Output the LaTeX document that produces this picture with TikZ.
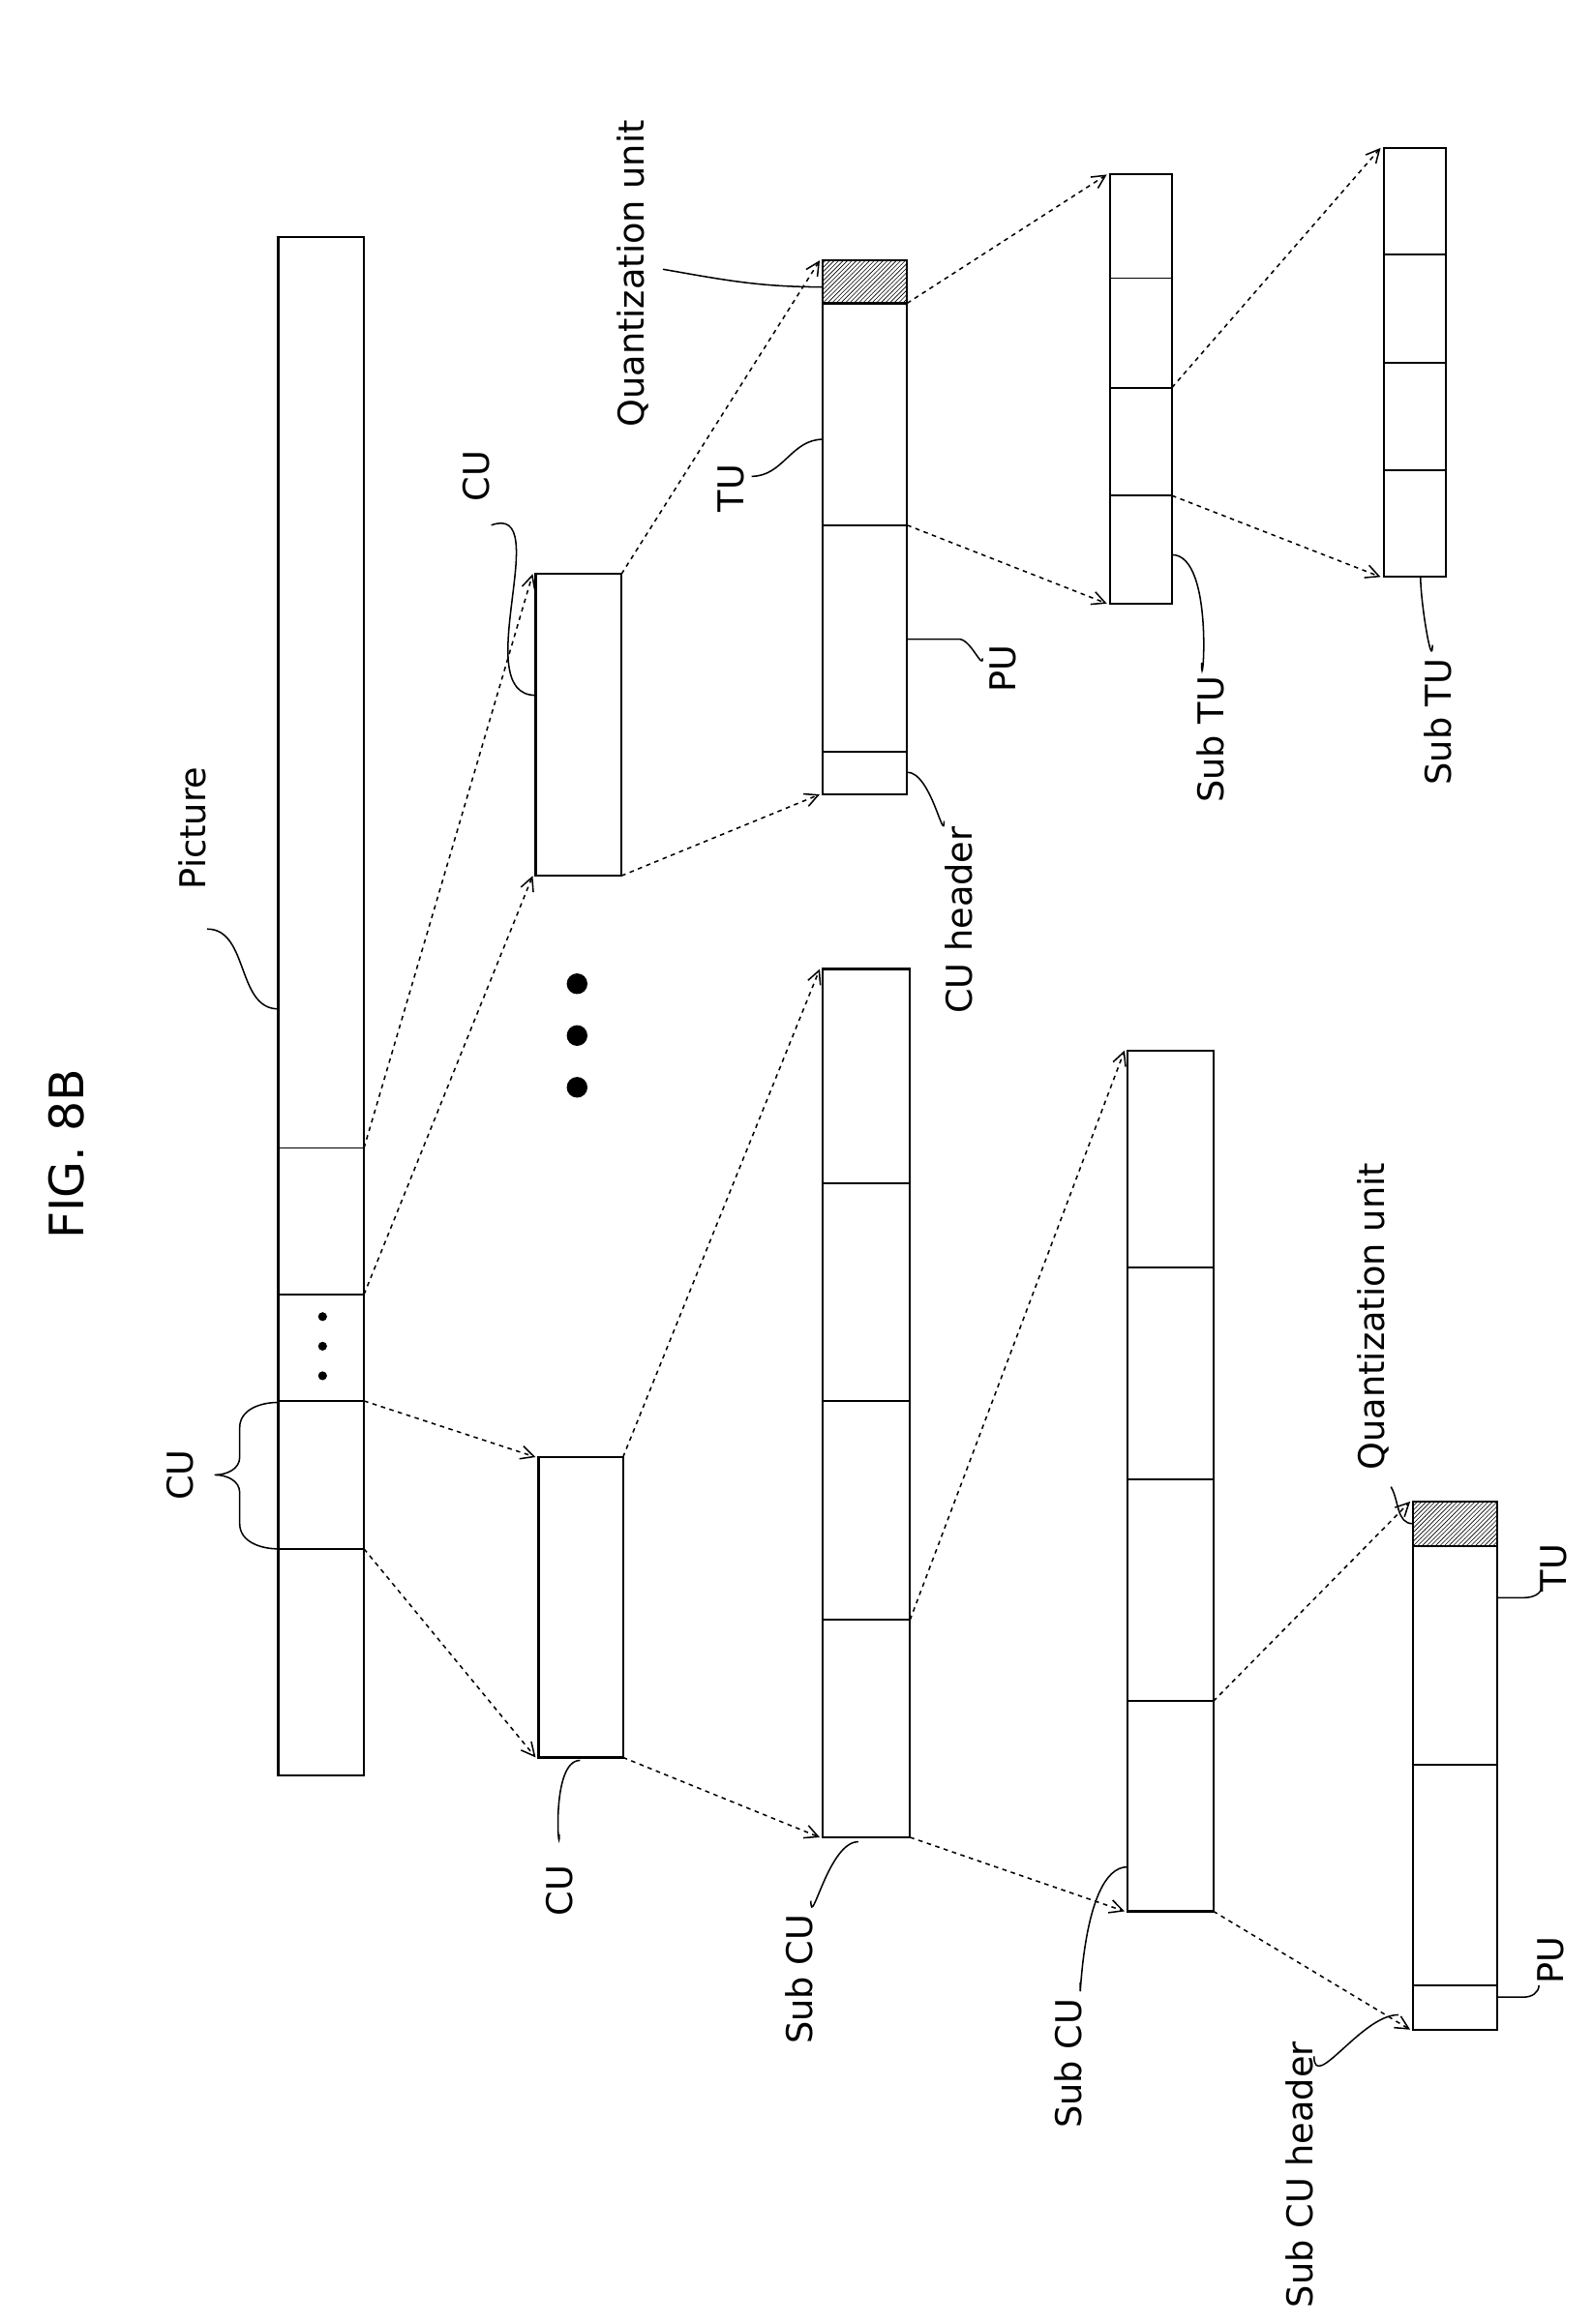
\documentclass[tikz,border=0pt]{standalone}
\usepackage{fontspec}
\setmainfont{DejaVu Sans}
\usetikzlibrary{arrows.meta,patterns}
\begin{document}
\begin{tikzpicture}[x=1pt,y=-1pt,
  box/.style={draw,line width=1.4pt,fill=white},
  dv/.style={line width=1.2pt},
  arr/.style={dashed,line width=1pt,-{Straight Barb[length=9pt,width=9pt]}},
  lead/.style={line width=1pt},
  lbl/.style={rotate=90,font=\fontsize{24}{28}\selectfont,inner sep=1pt},
  hatch/.style={pattern=north east lines}]
\useasboundingbox (0,0) rectangle (1076,1571);
\node[rotate=90,font=\fontsize{32}{36}\selectfont] (title) at (45,780) {FIG. 8B};
% Picture
\draw[box] (188,160) rectangle (246,1200);
\foreach \y in {776,875,947,1047} \draw[dv] (188,\y) -- (246,\y);
\foreach \y in {890,910,930} \fill (218,\y) circle (3);
\node[lbl] (lpic) at (130,560) {Picture};
\draw[lead] (140,628) to[out=0,in=180] (188,682);
\node[lbl] (lcu) at (122,997) {CU};
\draw[lead] (188,948) to[out=180,in=90] (162,965) -- (162,985) to[out=270,in=0] (145,997) to[out=0,in=90] (162,1009) -- (162,1030) to[out=270,in=180] (188,1047);
% CU upper
\draw[box] (362,388) rectangle (420,592);
\coordinate (p776) at (246,776); \coordinate (p875) at (246,875);
\draw[arr] (p776) -- (360,388);
\draw[arr] (p875) -- (360,592);
\node[lbl] (lcu1) at (322,322) {CU};
\draw[lead] (332,355) to[out=20,in=180] (362,470);
\foreach \y in {665,700,735} \fill (390,\y) circle (7);
% CU lower
\draw[box] (364,985) rectangle (421,1188);
\draw[arr] (246,947) -- (362,985);
\draw[arr] (246,1047) -- (362,1188);
\node[lbl] (lcu2) at (378,1278) {CU};
\draw[lead] (378,1240) to[out=-90,in=180] (392,1190);
% TU column upper
\draw[box] (556,176) rectangle (613,537);
\fill[white] (556,176) rectangle (613,205);
\path[hatch] (556,176) rectangle (613,205);
\draw[line width=1.4pt] (556,176) rectangle (613,205);
\foreach \y in {355,508} \draw[dv] (556,\y) -- (613,\y);
\draw[arr] (420,388) -- (554,176);
\draw[arr] (420,592) -- (554,537);
\node[lbl] (lq1) at (428,185) {Quantization unit};
\draw[lead] (448,182) to[out=-10,in=180] (556,194);
\node[lbl] (ltu1) at (494,330) {TU};
\draw[lead] (508,322) to[out=0,in=180] (556,297);
\node[lbl] (lpu1) at (678,452) {PU};
\draw[lead] (613,432) -- (648,432) to[out=0,in=-90] (664,445);
\node[lbl] (lh1) at (648,622) {CU header};
\draw[lead] (613,522) to[out=0,in=-90] (638,555);
% Sub TU 1
\draw[box] (750,118) rectangle (792,408);
\foreach \y in {188,262,335} \draw[dv] (750,\y) -- (792,\y);
\draw[arr] (613,205) -- (748,118);
\draw[arr] (613,355) -- (748,408);
\node[lbl] (lst1) at (818,500) {Sub TU};
\draw[lead] (792,375) to[out=0,in=-90] (812,448);
% Sub TU 2
\draw[box] (935,100) rectangle (977,390);
\foreach \y in {172,245,318} \draw[dv] (935,\y) -- (977,\y);
\draw[arr] (792,262) -- (933,100);
\draw[arr] (792,335) -- (933,390);
\node[lbl] (lst2) at (972,488) {Sub TU};
\draw[lead] (960,390) to[out=-90,in=-90] (968,436);
% Sub CU 1
\draw[box] (556,655) rectangle (615,1242);
\foreach \y in {800,947,1095} \draw[dv] (556,\y) -- (615,\y);
\draw[arr] (421,985) -- (554,655);
\draw[arr] (421,1188) -- (554,1242);
\node[lbl] (lsc1) at (540,1338) {Sub CU};
\draw[lead] (548,1285) to[out=-90,in=180] (580,1245);
% Sub CU 2
\draw[box] (762,710) rectangle (820,1292);
\foreach \y in {857,1000,1150} \draw[dv] (762,\y) -- (820,\y);
\draw[arr] (615,1095) -- (760,710);
\draw[arr] (615,1242) -- (760,1292);
\node[lbl] (lsc2) at (722,1395) {Sub CU};
\draw[lead] (730,1340) to[out=-90,in=180] (762,1262);
% Final
\draw[box] (955,1015) rectangle (1012,1372);
\fill[white] (955,1015) rectangle (1012,1045);
\path[hatch] (955,1015) rectangle (1012,1045);
\draw[line width=1.4pt] (955,1015) rectangle (1012,1045);
\foreach \y in {1193,1342} \draw[dv] (955,\y) -- (1012,\y);
\draw[arr] (820,1150) -- (953,1015);
\draw[arr] (820,1292) -- (953,1372);
\node[lbl] (lq2) at (928,890) {Quantization unit};
\draw[lead] (940,1005) to[out=-60,in=180] (955,1030);
\node[lbl] (ltu2) at (1050,1060) {TU};
\draw[lead] (1012,1080) -- (1030,1080) to[out=0,in=-90] (1042,1072);
\node[lbl] (lpu2) at (1048,1325) {PU};
\draw[lead] (1012,1350) -- (1030,1350) to[out=0,in=-90] (1040,1342);
\node[lbl] (lh2) at (878,1470) {Sub CU header};
\draw[lead] (888,1390) to[out=-90,in=180] (945,1362);
\end{tikzpicture}
\end{document}
